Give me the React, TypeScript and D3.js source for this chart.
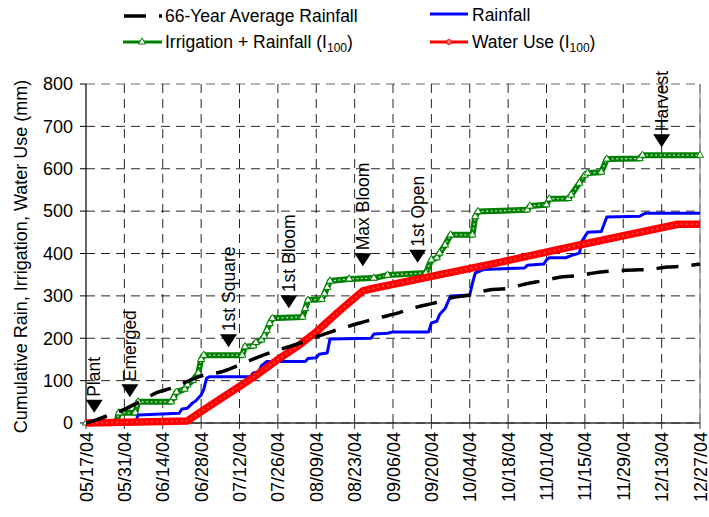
import React from "react";
import * as d3 from "d3";

const W = 709;
const H = 517;

const startDate = "05/17/04";
const dateTicks = [
  "05/17/04", "05/31/04", "06/14/04", "06/28/04", "07/12/04", "07/26/04",
  "08/09/04", "08/23/04", "09/06/04", "09/20/04", "10/04/04", "10/18/04",
  "11/01/04", "11/15/04", "11/29/04", "12/13/04", "12/27/04",
];
const yTicks = [0, 100, 200, 300, 400, 500, 600, 700, 800];

// [day since 05/17/04, cumulative mm]
const avgRainfall: [number, number][] = [
  [0, 0], [4, 8], [9, 20], [14, 32], [20, 52], [26, 72], [32, 84], [37, 98],
  [41, 109], [50, 122], [57, 140], [63, 156], [70, 172], [76, 184], [81, 196],
  [88, 212], [95, 227], [101, 238], [108, 250], [114, 260], [121, 274],
  [127, 283], [133, 295], [140, 302], [147, 314], [153, 317], [159, 326],
  [166, 335], [174, 345], [180, 348], [187, 356], [193, 359], [200, 361],
  [206, 363], [212, 368], [218, 370], [224, 375],
];

const rainfall: [number, number][] = [
  [0, 0], [18, 0], [19, 19], [34, 23], [35, 33], [37, 35], [39, 48], [40, 52],
  [42, 66], [43, 80], [44, 106], [45, 109], [60, 109], [61, 118], [63, 121],
  [64, 135], [66, 145], [80, 145], [81, 152], [84, 154], [85, 162], [88, 165],
  [89, 198], [104, 200], [105, 210], [110, 212], [112, 215], [125, 215],
  [126, 236], [128, 240], [129, 256], [131, 270], [133, 300], [140, 302],
  [141, 330], [142, 354], [145, 362], [160, 366], [161, 372], [167, 375],
  [168, 385], [169, 390], [175, 390], [177, 395], [180, 401], [181, 430],
  [183, 450], [188, 452], [190, 486], [202, 488], [204, 495], [224, 495],
];

const irrigationRainfall: [number, number][] = [
  [0, 0], [11, 0], [12, 24], [18, 24], [19, 50], [31, 50], [32, 60], [33, 73],
  [36, 80], [37, 90], [39, 101], [41, 118], [42, 150], [43, 160], [57, 160],
  [58, 180], [61, 182], [62, 190], [64, 196], [65, 205], [66, 219], [67, 235],
  [68, 247], [79, 250], [80, 270], [81, 290], [86, 292], [87, 305], [88, 320],
  [89, 335], [96, 340], [105, 342], [110, 349], [124, 354], [126, 385],
  [128, 390], [129, 401], [131, 420], [133, 444], [141, 444], [142, 487],
  [143, 499], [161, 503], [162, 512], [168, 515], [169, 529], [176, 530],
  [177, 538], [180, 566], [182, 585], [183, 590], [188, 592], [190, 623],
  [202, 624], [203, 632], [224, 632],
];

const waterUse: [number, number][] = [
  [0, 0], [10, 1], [37, 5], [45, 40], [55, 82], [62, 112], [70, 150],
  [77, 180], [84, 215], [92, 262], [101, 312], [105, 318], [150, 378],
  [180, 420], [216, 469], [224, 469],
];

const stageLabels = ["Plant", "Emerged", "1st Square", "1st Bloom", "Max Bloom", "1st Open", "Harvest"];
const stageDays = [3, 16, 52, 74, 101, 121, 210];
const stageValues = [24, 61, 179, 271, 370, 378, 651];

const FONT = "'Liberation Sans', Arial, Helvetica, sans-serif";

export default function App() {
  const parse = d3.timeParse("%m/%d/%y");
  const t0 = parse(startDate) as Date;
  const tEnd = parse(dateTicks[dateTicks.length - 1]) as Date;
  const left = 86, right = 700, top = 84, bottom = 423;
  const x = d3.scaleTime().domain([t0, tEnd]).range([left, right]);
  const y = d3.scaleLinear().domain([0, 800]).range([bottom, top]);
  const toDate = (d: number) => d3.timeDay.offset(t0, d);
  const px = (d: number) => x(toDate(d));

  const line = d3.line<[number, number]>().x((d) => px(d[0])).y((d) => y(d[1]));
  const smooth = d3
    .line<[number, number]>()
    .x((d) => px(d[0]))
    .y((d) => y(d[1]))
    .curve(d3.curveMonotoneX);

  const greenPath = line(irrigationRainfall) || "";
  const bluePath = line(rainfall) || "";
  const redPath = line(waterUse) || "";
  const blackPath = smooth(avgRainfall) || "";
  const tri = d3.symbol().type(d3.symbolTriangle).size(22)() || "";

  return (
    <svg
      width={W}
      height={H}
      style={{ position: "absolute", left: 0, top: 0, background: "#fff" }}
      fontFamily={FONT}
    >
      {/* grid */}
      {yTicks.map((t) => (
        <line key={"gy" + t} x1={left} x2={right} y1={y(t)} y2={y(t)} stroke="#000" strokeWidth={1} strokeDasharray="9,6" opacity={t === 800 ? 0.6 : 0.85} />
      ))}
      {dateTicks.map((t, i) => {
        const xx = x(parse(t) as Date);
        return i === 0 ? null : (
          <line key={"gx" + t} x1={xx} x2={xx} y1={top} y2={bottom} stroke="#000" strokeWidth={1} strokeDasharray="9,6" opacity={0.85} />
        );
      })}
      <line x1={right} x2={right} y1={top} y2={bottom} stroke="#999" strokeWidth={1.5} />

      {/* axes */}
      <line x1={left} x2={left} y1={top} y2={bottom} stroke="#000" strokeWidth={1.2} />
      <line x1={left} x2={right} y1={bottom} y2={bottom} stroke="#333" strokeWidth={1.5} />
      {yTicks.map((t) => (
        <g key={"yt" + t}>
          <line x1={left - 6} x2={left} y1={y(t)} y2={y(t)} stroke="#000" />
          <text x={73} y={y(t)} dy="0.35em" textAnchor="end" fontSize={18} fill="#000">{t}</text>
        </g>
      ))}
      {dateTicks.map((t) => {
        const xx = x(parse(t) as Date);
        return (
          <g key={"xt" + t}>
            <line x1={xx} x2={xx} y1={bottom} y2={bottom + 6} stroke="#333" />
            <text transform={`translate(${xx + 6.5},${bottom + 9}) rotate(-90)`} textAnchor="end" fontSize={18} fill="#000">{t}</text>
          </g>
        );
      })}
      <text transform={`translate(27,${(top + bottom) / 2 + 3}) rotate(-90)`} textAnchor="middle" fontSize={18} fill="#000">
        Cumulative Rain, Irrigation, Water Use (mm)
      </text>

      {/* series */}
      <path d={greenPath} fill="none" stroke="#008000" strokeWidth={6} strokeLinejoin="round" />
      <path d={greenPath} fill="none" stroke="#ffffff" strokeWidth={1.3} strokeDasharray="2,2.5" opacity={0.75} />
      {irrigationRainfall.map((d, i) => (
        <path key={"gm" + i} d={tri} transform={`translate(${px(d[0])},${y(d[1])})`} fill="#fff" stroke="#008000" strokeWidth={1} />
      ))}
      <path d={bluePath} fill="none" stroke="#0000ff" strokeWidth={3} strokeLinejoin="round" />
      <path d={redPath} fill="none" stroke="#ff0000" strokeWidth={7.5} strokeLinejoin="round" />
      <path d={redPath} fill="none" stroke="#ff8080" strokeWidth={1.4} strokeDasharray="2,3" opacity={0.6} />
      <path d={blackPath} fill="none" stroke="#000" strokeWidth={3.5} strokeDasharray="22,13" />

      {/* growth stages */}
      {stageLabels.map((s, i) => {
        const xx = px(stageDays[i]);
        const yy = y(stageValues[i]);
        return (
          <g key={"st" + s}>
            <path d={`M${xx - 8.5},${yy - 13}L${xx + 8.5},${yy - 13}L${xx},${yy}Z`} fill="#000" />
            <text transform={`translate(${xx + 6},${yy - 16}) rotate(-90)`} textAnchor="start" fontSize={17.5} fill="#000">{s}</text>
          </g>
        );
      })}

      {/* legend */}
      <g fontSize={17.5} fill="#000">
        <line x1={124} x2={162} y1={16} y2={16} stroke="#000" strokeWidth={3.5} strokeDasharray="22,13" />
        <text x={165} y={16} dy="0.35em">66-Year Average Rainfall</text>
        <line x1={123} x2={162} y1={42} y2={42} stroke="#008000" strokeWidth={3} />
        <path d={tri} transform="translate(142,42)" fill="#fff" stroke="#008000" strokeWidth={1} />
        <text x={165} y={42} dy="0.35em">
          Irrigation + Rainfall (I<tspan fontSize={12} dy="4">100</tspan><tspan dy="-4">)</tspan>
        </text>
        <line x1={430} x2={468} y1={14} y2={14} stroke="#0000ff" strokeWidth={3} />
        <text x={472} y={15} dy="0.35em">Rainfall</text>
        <line x1={430} x2={468} y1={42} y2={42} stroke="#ff0000" strokeWidth={3} />
        <circle cx={449} cy={42} r={2.5} fill="#ff8080" stroke="#ff0000" />
        <text x={472} y={42} dy="0.35em">
          Water Use (I<tspan fontSize={12} dy="4">100</tspan><tspan dy="-4">)</tspan>
        </text>
      </g>
    </svg>
  );
}
